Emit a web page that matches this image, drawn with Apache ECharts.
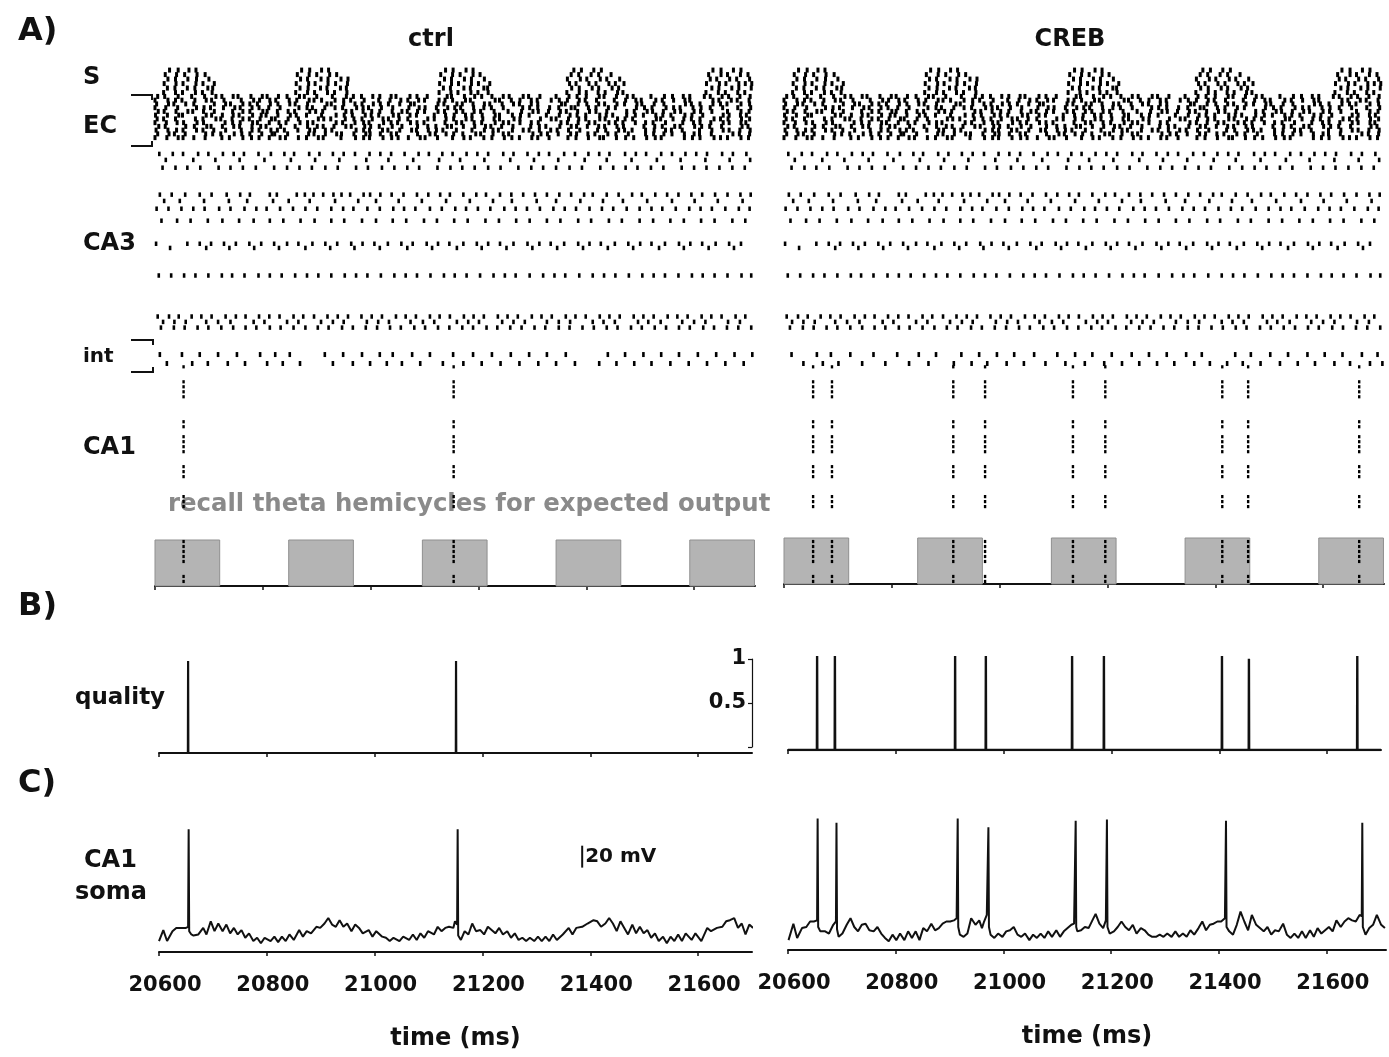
<!DOCTYPE html>
<html><head><meta charset="utf-8">
<script src="https://cdn.jsdelivr.net/npm/echarts@6/dist/echarts.min.js"></script>
<style>html,body{margin:0;padding:0;background:#fff}#c{width:1389px;height:1057px}</style>
</head><body><div id="c"></div>
<script>
// ---------------- DATA ----------------
const T0 = 20600; // raster spike times below are ms after T0
const timeTicks = [20600, 20800, 21000, 21200, 21400, 21600];
const recallStart = [20600, 20848, 21096, 21344, 21592];
const recallEnd   = [20720, 20968, 21216, 21464, 21712];

// S (storage cue) cells - fire in bursts
const sRow1 = [27,43,63,76,272,287,309,322,539,553,577,590,777,791,814,828,1035,1050,1073,1087];
const sRow2 = [19,40,55,78,93,264,286,300,324,337,530,552,566,590,603,772,786,809,823,846,1027,1050,1062,1086,1100];
const sRow3 = [24,38,61,77,100,270,283,308,321,345,358,537,550,574,587,611,765,789,801,826,838,862,1030,1042,1066,1079,1103];
const sRow4 = [17,39,52,76,89,110,262,285,297,321,335,357,528,550,563,587,600,621,769,781,805,818,842,854,870,1023,1047,1059,1083,1095,1107];
const sRow5 = [23,37,60,74,98,107,269,284,307,319,344,355,535,548,573,585,610,617,773,787,811,823,848,860,1033,1046,1070,1083,1106];
const sRow6 = [16,38,51,75,88,106,261,283,296,320,333,356,527,549,562,586,599,618,764,787,800,822,835,858,868,1022,1045,1058,1081,1094];

// EC cells
const ecRow1 = [5,18,43,68,92,113,124,145,154,178,199,208,229,245,268,277,300,329,355,368,383,404,417,438,447,473,486,505,542,550,574,593,606,625,646,657,683,693,714,744,768,783,800,824,833,856,876,887,920,945,960,980,992,1019,1030,1052,1064,1085,1104];
const ecRow2 = [0,24,38,50,74,95,105,128,160,183,194,213,224,249,263,286,295,309,334,350,363,388,415,436,456,469,489,500,527,538,552,576,585,631,639,661,677,698,709,735,750,765,787,798,819,852,873,892,902,929,941,962,983,992,1035,1046,1069,1080,1102];
const ecRow3 = [3,25,35,57,72,110,131,140,163,176,190,214,228,250,260,283,319,327,350,371,384,405,418,433,454,474,481,525,536,560,570,590,611,621,644,665,676,698,710,754,761,785,801,823,834,857,871,894,903,926,944,984,995,1011,1035,1049,1061,1087,1103];
const ecRow4 = [0,20,42,77,91,103,127,148,158,180,193,211,232,267,282,292,315,334,348,374,386,396,420,441,471,490,501,522,543,556,567,591,610,624,646,682,695,710,732,749,772,779,804,818,841,854,893,908,922,948,962,974,998,1013,1030,1053,1081,1105];
const ecRow5 = [6,17,39,61,70,90,110,144,163,176,200,208,227,247,259,287,298,311,354,365,386,402,417,440,458,468,487,500,525,537,559,571,592,604,629,655,680,701,711,730,752,763,784,806,818,838,875,889,913,923,943,964,975,1000,1012,1033,1062,1087,1102];
const ecRow6 = [1,23,44,51,95,105,125,145,156,181,197,206,228,251,262,281,309,336,351,366,390,401,415,442,452,473,485,518,539,555,576,588,607,631,639,663,678,694,726,750,770,783,799,825,837,849,875,891,906,929,942,957,983,996,1016,1054,1065,1086,1097];
const ecRow7 = [4,16,38,75,89,113,122,143,163,175,195,216,223,247,266,303,313,326,353,369,384,403,423,433,453,469,506,518,540,554,577,588,608,629,639,666,677,715,735,744,767,786,799,825,835,858,872,886,930,938,961,981,995,1011,1037,1049,1063,1088,1103];
const ecRow8 = [0,21,41,53,78,90,130,144,158,181,190,212,230,243,269,283,293,336,348,371,387,397,424,438,450,474,486,499,538,559,569,592,606,631,646,656,677,698,711,753,765,785,805,816,842,854,868,891,910,924,947,979,999,1011,1031,1054,1065,1087,1096];
const ecRow9 = [7,19,57,73,96,104,125,146,157,180,196,206,233,260,283,301,312,332,354,364,389,400,416,440,458,487,506,521,542,550,572,593,613,623,643,664,697,713,725,751,772,782,802,823,834,857,869,907,927,941,964,974,1001,1014,1029,1051,1089,1100];
const ecRow10 = [2,24,40,52,77,89,109,131,160,180,193,215,227,240,265,287,296,316,328,373,387,398,422,432,454,476,485,507,522,534,559,588,611,627,637,663,683,694,713,734,746,767,788,821,836,860,871,885,910,926,947,958,978,1010,1033,1054,1065,1085,1104];
const ecRow11 = [5,26,36,56,94,107,122,147,161,176,198,217,222,246,285,295,316,337,346,369,391,399,418,438,448,487,510,520,540,554,571,595,604,627,646,656,701,716,728,748,771,782,803,816,840,855,878,910,925,944,959,982,1000,1010,1032,1072,1084,1103];
const ecRow12 = [0,22,43,52,72,93,124,138,163,179,193,212,232,242,266,281,303,312,345,372,387,398,423,439,451,470,492,501,524,552,573,585,610,625,648,662,676,699,710,731,766,781,804,825,832,856,873,888,912,928,939,982,997,1011,1037,1049,1062,1087,1101];

// CA3 cells
const ca3Row1 = [8,33,52,80,99,126,146,165,192,215,240,258,286,305,330,350,371,398,418,438,463,489,508,533,552,578,598,618,646,665,691,712,731,759,779,804,824,843,872,892,911,939,959,984,1004,1024,1052,1072,1097];
const ca3Row2 = [20,71,112,157,203,252,297,342,392,433,479,527,566,611,659,703,748,797,838,884,931,975,1021,1066,1104];
const ca3Row3 = [14,38,60,84,118,140,163,187,221,245,268,291,316,339,373,395,421,444,468,490,524,548,570,593,618,641,674,698,720,744,769,792,826,850,873,895,920,943,977,1000,1023,1047,1071,1094];
const ca3Row4 = [9,31,56,83,105,133,158,176,213,226,263,278,294,312,331,346,362,387,399,418,439,461,486,507,529,547,572,596,614,640,661,683,705,727,750,772,796,812,838,860,885,903,928,950,971,995,1015,1039,1062,1086,1105];
const ca3Row5 = [17,46,91,137,171,219,248,287,334,377,410,452,495,540,584,627,662,708,744,789,831,868,913,959,1001,1044,1090];
const ca3Row6 = [3,25,49,71,92,119,140,166,188,207,232,256,279,301,327,349,368,394,417,442,462,483,510,532,557,577,599,622,648,669,690,714,739,760,781,806,829,850,875,899,921,941,966,991,1012,1033,1058,1083,1103];
const ca3Row7 = [12,41,66,98,125,156,183,213,238,270,296,327,351,384,410,441,466,499,523,555,580,613,638,670,695,727,752,785,809,842,866,899,924,956,981,1013,1038,1071,1095];
const ca3Row8 = [2,60,83,104,128,150,175,197,221,245,266,292,316,338,364,385,407,432,457,478,504,525,546,572,597,618,640,665,691,713,734,759,785,806,827,853,878,900,921,946,972,993,1015,1040,1065,1087];
const ca3Row9 = [28,95,138,184,230,279,325,370,417,468,514,560,606,652,700,746,794,840,887,935,981,1027,1074];
const ca3Row10 = [7,30,54,75,99,124,143,166,192,213,235,260,282,303,327,352,373,394,419,444,465,486,511,536,556,578,603,628,649,669,695,720,741,761,787,812,833,854,879,904,925,946,971,996,1016,1038,1062,1088,1106];
const ca3Row11 = [5,26,44,68,86,105,131,150,168,193,212,231,257,275,295,320,339,358,383,402,421,447,465,484,510,528,547,573,591,610,636,654,673,699,717,736,762,780,799,825,843,862,888,906,925,951,969,988,1014,1032,1051,1077,1095];
const ca3Row12 = [15,36,57,95,117,140,183,203,245,266,308,330,350,393,414,434,474,497,518,560,581,601,644,665,686,727,749,770,812,832,853,896,915,938,978,1000,1021,1063,1085];
const ca3Row13 = [11,35,55,79,99,123,145,168,188,213,233,257,279,302,322,347,367,391,412,436,456,481,501,525,546,570,590,615,635,659,680,704,724,749,769,793,814,838,858,883,903,927,948,972,992,1017,1037,1061,1082,1106];

// interneurons
const intCtrlA = [9,50,83,117,152,195,223,250,315,349,384,417,441,477,510,553,590,625,660,694,727,762,840,872,906,939,972,1007,1041,1075,1108];
const intCtrlB = [22,69,98,135,167,208,237,269,330,367,399,430,458,492,534,572,606,641,676,711,744,779,824,856,889,921,956,990,1024,1058,1092];
const intCrebA = [14,61,87,123,166,210,250,282,329,362,395,427,464,507,540,572,608,645,677,710,746,775,837,866,902,935,971,1003,1036,1072,1101];
const intCrebB = [36,72,101,145,188,232,268,315,348,377,413,445,485,522,558,594,627,659,692,724,761,790,822,851,884,920,953,985,1021,1050,1087,1110];

// CA1 pattern cells (cell index) and their spike times (ms)
const ca1Cells = [0,3,4,5,6,11,12,14,15,16,17,20,21,22,26,27,28,35,36,37,38,39,42,43];
const ca1SpikesCtrl = [20653, 21154];
const ca1SpikesCreb = [20654, 20689, 20914, 20973, 21136, 21196, 21413, 21461, 21667];

// B) recall quality
const qualityCtrlT = [20654, 21151];
const qualityCtrlV = [1, 1];
const qualityCrebT = [20654, 20687, 20910, 20967, 21127, 21186, 21405, 21455, 21656];
const qualityCrebV = [1, 1, 1, 1, 1, 1, 1, 0.97, 1];

// C) CA1 soma membrane potential [ms, mV]
const somaCtrl = [[20600,-71],[20608,-61],[20615,-71],[20625,-62],[20632,-59],[20641,-59],[20650,-59],[20654,-58],[20655,31],[20656,-62],[20660,-65],[20664,-66],[20673,-65],[20682,-59],[20688,-65],[20696,-53],[20703,-62],[20710,-55],[20718,-62],[20725,-56],[20732,-64],[20739,-59],[20746,-65],[20753,-61],[20760,-68],[20767,-64],[20775,-71],[20782,-68],[20789,-73],[20796,-68],[20807,-71],[20814,-67],[20821,-72],[20828,-67],[20835,-71],[20842,-65],[20850,-70],[20860,-61],[20867,-67],[20874,-62],[20882,-64],[20892,-58],[20899,-59],[20907,-55],[20914,-50],[20921,-56],[20928,-58],[20935,-52],[20942,-58],[20949,-55],[20957,-62],[20964,-56],[20971,-59],[20978,-64],[20989,-61],[20996,-67],[21003,-62],[21014,-67],[21021,-68],[21028,-71],[21035,-68],[21046,-71],[21053,-67],[21064,-70],[21071,-65],[21078,-70],[21085,-64],[21092,-68],[21099,-62],[21110,-65],[21117,-58],[21124,-62],[21131,-59],[21138,-58],[21146,-59],[21149,-53],[21153,-56],[21154,31],[21155,-66],[21160,-70],[21167,-62],[21174,-65],[21181,-55],[21188,-62],[21196,-61],[21203,-65],[21210,-58],[21217,-61],[21224,-64],[21231,-59],[21238,-65],[21246,-62],[21253,-68],[21260,-64],[21267,-70],[21274,-68],[21281,-71],[21288,-68],[21296,-71],[21303,-67],[21310,-71],[21317,-67],[21324,-71],[21331,-65],[21338,-70],[21349,-65],[21360,-59],[21367,-65],[21374,-59],[21385,-58],[21395,-55],[21406,-52],[21413,-53],[21420,-58],[21428,-55],[21435,-50],[21442,-55],[21449,-62],[21456,-53],[21463,-59],[21470,-65],[21478,-56],[21485,-64],[21492,-58],[21499,-64],[21506,-61],[21513,-68],[21520,-64],[21527,-71],[21535,-67],[21542,-73],[21549,-67],[21556,-71],[21563,-65],[21570,-71],[21577,-64],[21588,-70],[21595,-64],[21606,-71],[21617,-59],[21624,-62],[21635,-59],[21645,-58],[21652,-53],[21659,-52],[21667,-50],[21674,-59],[21681,-55],[21688,-65],[21695,-56],[21702,-59]];
const somaCreb = [[20601,-72],[20610,-57],[20617,-70],[20626,-61],[20634,-60],[20641,-55],[20648,-55],[20654,-54],[20655,39],[20656,-60],[20660,-64],[20669,-64],[20676,-66],[20684,-58],[20689,-55],[20690,35],[20691,-62],[20694,-69],[20701,-66],[20709,-58],[20716,-52],[20723,-60],[20730,-64],[20737,-58],[20744,-57],[20751,-63],[20759,-64],[20766,-60],[20773,-66],[20780,-70],[20787,-73],[20794,-67],[20801,-72],[20808,-66],[20816,-72],[20823,-64],[20830,-70],[20837,-64],[20844,-72],[20851,-61],[20858,-64],[20866,-57],[20873,-63],[20880,-61],[20887,-57],[20894,-55],[20901,-55],[20908,-54],[20913,-52],[20915,39],[20916,-60],[20919,-67],[20926,-69],[20933,-66],[20940,-52],[20948,-58],[20955,-54],[20960,-61],[20964,-55],[20969,-49],[20972,31],[20973,-60],[20976,-67],[20983,-70],[20990,-66],[20998,-69],[21005,-64],[21012,-63],[21019,-60],[21026,-67],[21033,-69],[21040,-66],[21048,-72],[21055,-67],[21062,-70],[21069,-66],[21076,-70],[21083,-64],[21090,-69],[21098,-63],[21105,-69],[21112,-64],[21119,-61],[21126,-58],[21131,-57],[21134,37],[21135,-60],[21137,-64],[21144,-63],[21151,-60],[21158,-61],[21165,-54],[21171,-48],[21178,-57],[21185,-61],[21190,-54],[21192,38],[21193,-60],[21197,-66],[21205,-64],[21212,-60],[21219,-55],[21226,-60],[21233,-63],[21240,-58],[21247,-66],[21255,-61],[21262,-63],[21269,-67],[21276,-69],[21283,-69],[21290,-67],[21297,-69],[21304,-66],[21312,-69],[21319,-64],[21326,-69],[21333,-66],[21340,-69],[21347,-63],[21354,-67],[21362,-61],[21369,-55],[21376,-63],[21383,-58],[21390,-57],[21397,-55],[21404,-55],[21411,-52],[21413,37],[21414,-60],[21419,-64],[21426,-67],[21433,-58],[21440,-46],[21447,-55],[21454,-63],[21461,-49],[21469,-58],[21476,-61],[21483,-64],[21490,-60],[21497,-67],[21504,-63],[21511,-64],[21519,-57],[21526,-67],[21533,-70],[21540,-66],[21547,-70],[21554,-64],[21561,-70],[21569,-63],[21576,-69],[21583,-61],[21590,-66],[21597,-63],[21604,-60],[21611,-64],[21618,-54],[21626,-60],[21633,-55],[21640,-52],[21647,-54],[21654,-55],[21661,-49],[21665,-50],[21666,35],[21667,-60],[21672,-67],[21679,-61],[21686,-58],[21693,-49],[21701,-58],[21708,-61]];

// 20 mV scale bar
const scaleBarT = 21385, scaleBarFrom = -4, scaleBarTo = 16, scaleBarText = '20 mV';

// ---------------- LAYOUT / BUILD ----------------
const F = '"DejaVu Sans", Verdana, sans-serif';
const INK = '#111';
const sRows = [sRow1, sRow2, sRow3, sRow4, sRow5, sRow6];
const ecRows = [ecRow1, ecRow2, ecRow3, ecRow4, ecRow5, ecRow6, ecRow7, ecRow8, ecRow9, ecRow10, ecRow11, ecRow12];
const ca3Rows = [ca3Row1, ca3Row2, ca3Row3, ca3Row4, ca3Row5, ca3Row6, ca3Row7, ca3Row8, ca3Row9, ca3Row10, ca3Row11, ca3Row12, ca3Row13];
const sY = sRows.map((_, i) => 1.7 + 1.5 * i);
const ecY = ecRows.map((_, i) => 10.5 + 1.25 * i);
const ca3Y = [29.7, 31.7, 34.3, 43.3, 45.4, 48, 52, 59.7, 61.1, 70.3, 84, 85.8, 87.7];
const intY = [96.7, 99.7];
const ca1Top = 100.8, ca1Step = 1.667;

function rowsToPts(rows, ys) {
  const out = [];
  rows.forEach((r, i) => r.forEach(t => out.push([T0 + t, ys[i]])));
  return out;
}
const inputPts = rowsToPts(sRows, sY).concat(rowsToPts(ecRows, ecY));
const ca3Pts = rowsToPts(ca3Rows, ca3Y);
function ca1Pts(spikes) {
  const out = [];
  spikes.forEach(t => ca1Cells.forEach(c => out.push([t, ca1Top + c * ca1Step])));
  return out;
}
function qualityLine(ts, vs, x0, x1) {
  const pts = [[x0, 0]];
  ts.forEach((t, i) => { pts.push([t - 0.4, 0], [t, vs[i]], [t + 0.4, 0]); });
  pts.push([x1, 0]);
  return pts;
}

function timeAxis(grid, min, max, opts) {
  opts = opts || {};
  return {
    type: 'value', gridIndex: grid, min: min, max: max, show: opts.show !== false,
    axisLine: { show: true, onZero: false, lineStyle: { color: INK, width: 2 } },
    axisTick: { show: true, length: 4, inside: false, customValues: timeTicks, lineStyle: { color: INK, width: 1.5 } },
    axisLabel: opts.labels ? { show: true, customValues: timeTicks, formatter: v => String(v), color: INK, fontFamily: F, fontWeight: 'bold', fontSize: 21, margin: 23, padding: [0, 0, 0, 12] } : { show: false },
    splitLine: { show: false },
    name: opts.labels ? 'time (ms)' : '', nameLocation: 'middle', nameGap: 75,
    nameTextStyle: { color: INK, fontFamily: F, fontWeight: 'bold', fontSize: 24 }
  };
}
function hiddenY(grid, min, max, inverse) {
  return { type: 'value', gridIndex: grid, min: min, max: max, inverse: !!inverse, show: false, splitLine: { show: false } };
}

const grids = [
  { left: 155, top: 65, width: 600, height: 521 },   // 0 raster ctrl
  { left: 784, top: 65, width: 600, height: 521 },   // 1 raster CREB
  { left: 155, top: 540, width: 600, height: 46 },   // 2 recall strip ctrl
  { left: 784, top: 538, width: 600, height: 46 },   // 3 recall strip CREB
  { left: 159, top: 661, width: 593, height: 92 },   // 4 quality ctrl
  { left: 788, top: 656, width: 593, height: 94 },   // 5 quality CREB
  { left: 600, top: 659, width: 152, height: 88 },   // 6 quality scale
  { left: 159, top: 815, width: 593, height: 137 },  // 7 soma ctrl
  { left: 788, top: 813, width: 598, height: 137 }   // 8 soma CREB
].map(g => Object.assign({ outerBoundsMode: 'none', containLabel: false }, g));

const xAxes = [
  timeAxis(0, 20600, 21713, { show: false }),
  timeAxis(1, 20600, 21713, { show: false }),
  timeAxis(2, 20600, 21713),
  timeAxis(3, 20600, 21713),
  timeAxis(4, 20600, 21700),
  timeAxis(5, 20600, 21700),
  { type: 'value', gridIndex: 6, min: 0, max: 1, show: false },
  timeAxis(7, 20600, 21700, { labels: true }),
  timeAxis(8, 20600, 21710, { labels: true })
];
const yAxes = [
  hiddenY(0, 0, 174, true),
  hiddenY(1, 0, 174, true),
  hiddenY(2, 0, 1),
  hiddenY(3, 0, 1),
  hiddenY(4, 0, 1),
  hiddenY(5, 0, 1),
  { type: 'value', gridIndex: 6, min: 0, max: 1, interval: 0.5, position: 'right',
    axisLine: { show: true, onZero: false, lineStyle: { color: INK, width: 1.2 } },
    axisTick: { show: true, inside: true, length: 4, lineStyle: { color: INK, width: 1.2 } },
    axisLabel: { show: true, inside: true, margin: 6, color: INK, fontFamily: F, fontWeight: 'bold', fontSize: 21,
      formatter: v => (v === 0 ? '' : String(v)) },
    splitLine: { show: false } },
  hiddenY(7, -81, 44),
  hiddenY(8, -81, 44)
];

function dots(xi, data, size, z) {
  return { type: 'scatter', xAxisIndex: xi, yAxisIndex: xi, data: data, symbol: 'rect', symbolSize: size,
    itemStyle: { color: '#000', opacity: 1 }, silent: true, z: z || 3, animation: false };
}
function recallRects(xi) {
  return { type: 'custom', xAxisIndex: xi, yAxisIndex: xi, silent: true, z: 1,
    data: recallStart.map((s, i) => [s, recallEnd[i]]),
    renderItem: (params, api) => {
      const p0 = api.coord([api.value(0), 1]);
      const p1 = api.coord([api.value(1), 0]);
      return { type: 'rect', shape: { x: p0[0], y: p0[1], width: p1[0] - p0[0], height: p1[1] - p0[1] },
        style: { fill: '#b4b4b4', stroke: '#8f8f8f', lineWidth: 1 } };
    } };
}
function trace(xi, data, w) {
  return { type: 'line', xAxisIndex: xi, yAxisIndex: xi, data: data, showSymbol: false, symbol: 'none',
    lineStyle: { color: INK, width: w }, silent: true, animation: false, z: 3 };
}

const series = [
  dots(0, inputPts, [3, 5]), dots(1, inputPts, [3, 5]),
  dots(0, ca3Pts, [2.6, 4.5]), dots(1, ca3Pts, [2.6, 4.5]),
  dots(0, rowsToPts([intCtrlA, intCtrlB], intY), [2.6, 5]),
  dots(1, rowsToPts([intCrebA, intCrebB], intY), [2.6, 5]),
  dots(0, ca1Pts(ca1SpikesCtrl), [2.4, 3.2]),
  dots(1, ca1Pts(ca1SpikesCreb), [2.4, 3.2]),
  recallRects(2), recallRects(3),
  trace(4, qualityLine(qualityCtrlT, qualityCtrlV, 20600, 21700), 2.2),
  trace(5, qualityLine(qualityCrebT, qualityCrebV, 20600, 21700), 2.4),
  trace(7, somaCtrl, 2),
  trace(8, somaCreb, 2),
  trace(7, [[scaleBarT, scaleBarFrom], [scaleBarT, scaleBarTo]], 2),
  { type: 'scatter', xAxisIndex: 7, yAxisIndex: 7, data: [[scaleBarT, (scaleBarFrom + scaleBarTo) / 2]],
    symbolSize: 0, silent: true, itemStyle: { opacity: 1 },
    label: { show: true, position: 'right', distance: 3, formatter: scaleBarText, color: INK, opacity: 1,
      fontFamily: F, fontWeight: 'bold', fontSize: 20 } }
];

function txt(text, x, y, size, extra) {
  extra = extra || {};
  return { type: 'text', x: x, y: y, silent: true, z: 0,
    style: { text: text, fill: extra.fill || INK, font: 'bold ' + size + 'px ' + F,
      align: extra.align || 'left', verticalAlign: 'middle' } };
}
function pl(points) {
  return { type: 'polyline', silent: true, shape: { points: points }, style: { stroke: INK, lineWidth: 2, fill: null } };
}
const graphic = [
  txt('A)', 18, 32, 32), txt('B)', 18, 607, 32), txt('C)', 18, 784, 32),
  txt('ctrl', 431, 40, 24, { align: 'center' }), txt('CREB', 1070, 40, 24, { align: 'center' }),
  txt('S', 83, 78, 24), txt('EC', 83, 127, 24), txt('CA3', 83, 244, 24),
  txt('int', 83, 357, 20), txt('CA1', 83, 448, 24),
  txt('quality', 75, 698, 23), txt('CA1', 84, 861, 24), txt('soma', 75, 893, 24),
  txt('recall theta hemicycles for expected output', 168, 505, 24.4, { fill: '#8a8a8a' }),
  pl([[131, 95], [152, 95], [152, 100]]), pl([[131, 146], [152, 146], [152, 141]]),
  pl([[131, 340], [153, 340], [153, 345]]), pl([[131, 372], [153, 372], [153, 367]])
];

const chart = echarts.init(document.getElementById('c'), null, { renderer: 'canvas' });
chart.setOption({
  backgroundColor: '#fff', animation: false,
  grid: grids, xAxis: xAxes, yAxis: yAxes, series: series, graphic: graphic
});
</script></body></html>
